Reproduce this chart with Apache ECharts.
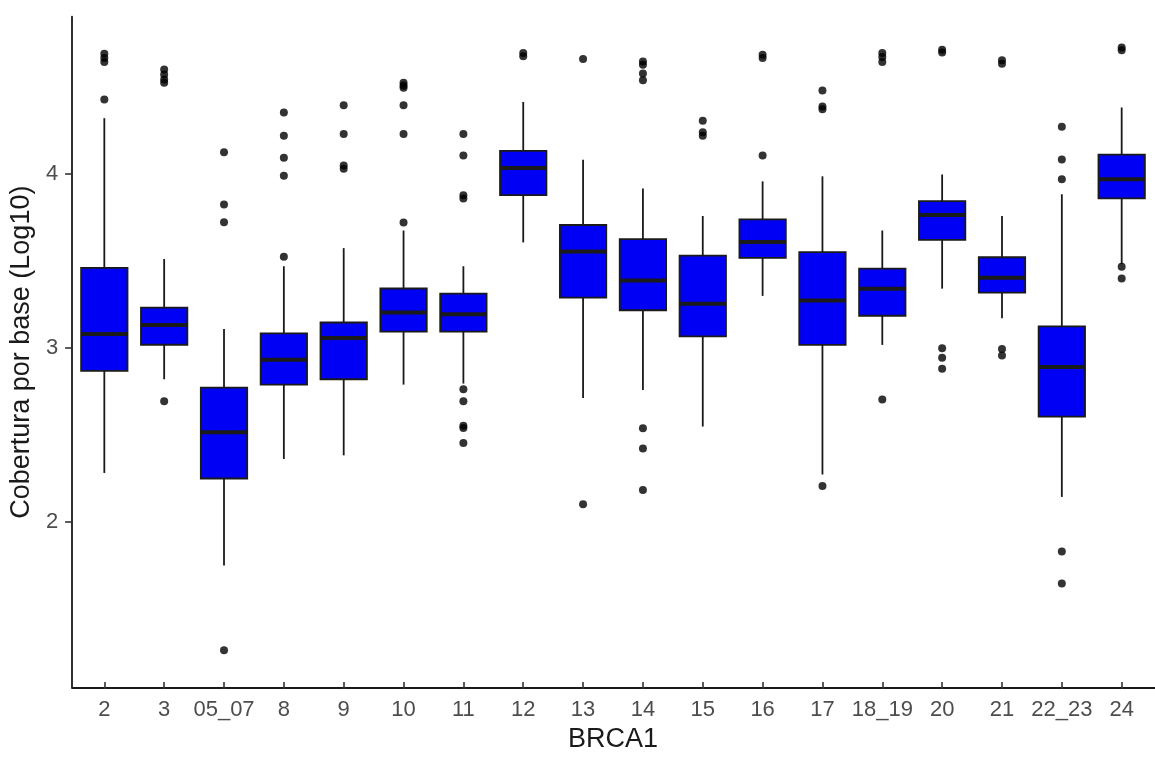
<!DOCTYPE html>
<html>
<head>
<meta charset="utf-8">
<script src="https://cdn.jsdelivr.net/npm/echarts@6/dist/echarts.min.js"></script>
<style>
html,body{margin:0;padding:0;background:#fff;}
#chart{width:1155px;height:758px;}
</style>
</head>
<body>
<div id="chart"></div>
<script>
// ---- data ----
var categories = ['2','3','05_07','8','9','10','11','12','13','14','15','16','17','18_19','20','21','22_23','24'];
var lowWhisker  = [2.260, 2.803, 1.724, 2.341, 2.362, 2.772, 2.778, 3.596, 2.695, 2.740, 2.529, 3.286, 2.251, 3.002, 3.328, 3.157, 2.121, 3.470];
var q1          = [2.851, 3.003, 2.228, 2.772, 2.803, 3.079, 3.079, 3.870, 3.276, 3.203, 3.052, 3.506, 3.002, 3.171, 3.611, 3.305, 2.586, 3.851];
var median      = [3.065, 3.117, 2.496, 2.916, 3.042, 3.190, 3.180, 4.027, 3.544, 3.375, 3.241, 3.598, 3.260, 3.328, 3.755, 3.391, 2.874, 3.962];
var q3          = [3.448, 3.218, 2.755, 3.069, 3.132, 3.329, 3.299, 4.126, 3.697, 3.615, 3.519, 3.730, 3.540, 3.444, 3.835, 3.510, 3.109, 4.105];
var highWhisker = [4.316, 3.500, 3.094, 3.458, 3.563, 3.665, 3.458, 4.410, 4.075, 3.908, 3.749, 3.950, 3.979, 3.665, 3.990, 3.749, 3.875, 4.378];
var outliers = [
  [4.690, 4.665, 4.642, 4.424],
  [4.598, 4.569, 4.540, 4.521, 2.676],
  [4.119, 3.816, 3.713, 1.232],
  [4.349, 4.214, 4.086, 3.983, 3.513],
  [4.391, 4.224, 4.042, 4.023],
  [4.521, 4.505, 4.492, 4.391, 4.224, 3.711],
  [4.224, 4.100, 3.870, 3.851, 2.745, 2.676, 2.533, 2.520, 2.433],
  [4.694, 4.675],
  [4.659, 2.079],
  [4.645, 4.625, 4.575, 4.536, 2.519, 2.402, 2.161],
  [4.301, 4.234, 4.214],
  [4.684, 4.665, 4.100],
  [4.477, 4.383, 4.368, 2.184],
  [4.694, 4.670, 4.642, 2.686],
  [4.713, 4.697, 2.983, 2.927, 2.864],
  [4.651, 4.632, 2.979, 2.941],
  [4.266, 4.077, 3.962, 1.805, 1.619],
  [4.726, 4.709, 3.455, 3.387]
];
var yTicks = [2, 3, 4];
var yMin = 1.048, yMax = 4.904;

// ---- build series data ----
var boxData = categories.map(function (c, i) {
  return [i, lowWhisker[i], q1[i], median[i], q3[i], highWhisker[i]];
});
var outlierData = [];
outliers.forEach(function (arr, i) {
  arr.forEach(function (v) { outlierData.push([i, v]); });
});

var lineCol = '#1a1a1a';
var chart = echarts.init(document.getElementById('chart'));
chart.setOption({
  backgroundColor: '#fff',
  animation: false,
  grid: [
    {left: 74.4, right: 3.4, top: 16.7, bottom: 70.3},
    {left: 68.3, right: 0, top: 16.7, bottom: 70.3}
  ],
  xAxis: [
    {
      type: 'category', gridIndex: 0, data: categories, boundaryGap: true,
      name: 'BRCA1', nameLocation: 'middle', nameGap: 42,
      nameTextStyle: {fontSize: 27, color: '#1a1a1a', fontFamily: 'Liberation Sans'},
      axisLine: {show: false},
      axisTick: {show: true, alignWithLabel: true, length: 7, lineStyle: {color: '#333', width: 1.6}},
      axisLabel: {interval: 0, margin: 17, fontSize: 22, color: '#4d4d4d', fontFamily: 'Liberation Sans'},
      splitLine: {show: false}
    },
    {
      type: 'value', gridIndex: 1, min: 0, max: 1,
      axisLine: {show: true, onZero: false, lineStyle: {color: lineCol, width: 1.8}},
      axisTick: {show: false}, axisLabel: {show: false}, splitLine: {show: false}
    }
  ],
  yAxis: [
    {type: 'value', gridIndex: 0, min: yMin, max: yMax, show: false},
    {
      type: 'value', gridIndex: 1, min: yMin, max: yMax,
      name: 'Cobertura por base (Log10)', nameLocation: 'middle', nameGap: 32,
      nameTextStyle: {fontSize: 27, color: '#1a1a1a', fontFamily: 'Liberation Sans'},
      axisLine: {show: true, onZero: false, lineStyle: {color: lineCol, width: 1.8}},
      axisTick: {show: true, length: 7, customValues: yTicks, lineStyle: {color: '#333', width: 1.6}},
      axisLabel: {customValues: yTicks, margin: 14, fontSize: 22, color: '#4d4d4d', fontFamily: 'Liberation Sans'},
      splitLine: {show: false}
    }
  ],
  series: [
    {
      type: 'custom', xAxisIndex: 0, yAxisIndex: 0,
      data: boxData,
      encode: {x: 0, y: [1, 2, 3, 4, 5]},
      renderItem: function (params, api) {
        var x = api.value(0);
        var lo = api.coord([x, api.value(1)]);
        var b1 = api.coord([x, api.value(2)]);
        var md = api.coord([x, api.value(3)]);
        var b3 = api.coord([x, api.value(4)]);
        var hi = api.coord([x, api.value(5)]);
        var bw = api.size([1, 0])[0] * 0.775;
        var cx = md[0];
        var ls = {stroke: lineCol, lineWidth: 1.8};
        return {
          type: 'group',
          children: [
            {type: 'line', shape: {x1: cx, y1: hi[1], x2: cx, y2: b3[1]}, style: ls},
            {type: 'line', shape: {x1: cx, y1: b1[1], x2: cx, y2: lo[1]}, style: ls},
            {type: 'rect', shape: {x: cx - bw / 2, y: b3[1], width: bw, height: b1[1] - b3[1]},
              style: {fill: '#0000F5', stroke: lineCol, lineWidth: 1.8}},
            {type: 'line', shape: {x1: cx - bw / 2, y1: md[1], x2: cx + bw / 2, y2: md[1]},
              style: {stroke: lineCol, lineWidth: 4}}
          ]
        };
      }
    },
    {
      type: 'scatter', xAxisIndex: 0, yAxisIndex: 0,
      data: outlierData, symbol: 'circle', symbolSize: 8,
      itemStyle: {color: '#000'}
    }
  ]
});
</script>
</body>
</html>
